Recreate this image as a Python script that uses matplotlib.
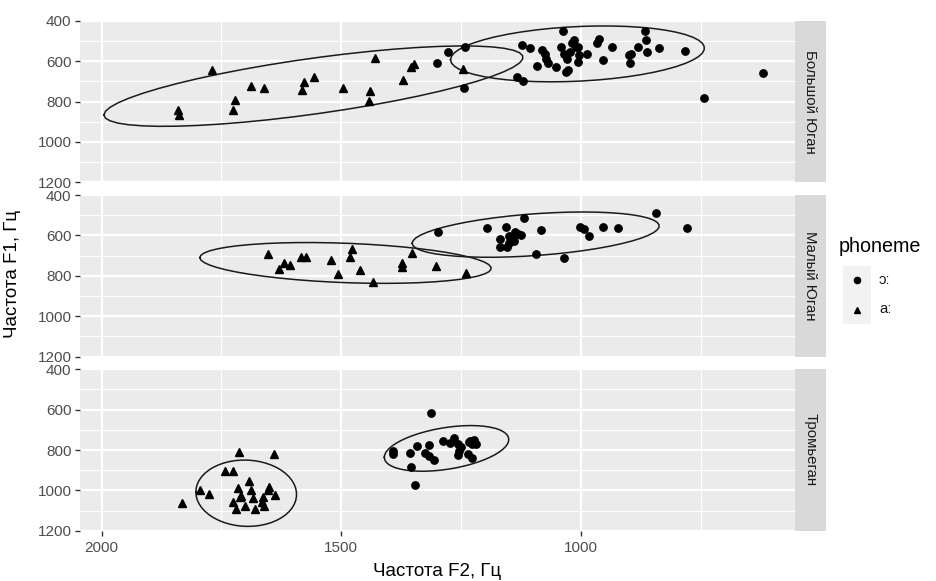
import numpy as np
import matplotlib
matplotlib.use('Agg')
import matplotlib.pyplot as plt

plt.rcParams['font.family'] = ['Liberation Sans', 'DejaVu Sans']

regions = ['Большой Юган', 'Малый Юган', 'Тромьеган']
phoneme_labels = ['ɔː', 'aː']

# Большой Юган
bu_o_f2 = [1277, 1242, 1301, 1244, 1134, 1121, 1122, 1107, 1091, 1081, 1075, 1072, 1069,
           1052, 1041, 1038, 1036, 1028, 1031, 1026, 1022, 1018, 1015, 1011, 1006, 1005,
           1004, 987, 966, 962, 954, 934, 900, 898, 896, 880, 865, 863, 861, 836, 783, 743, 619]
bu_o_f1 = [557, 529, 608, 733, 678, 700, 520, 537, 626, 545, 562, 590, 608,
           627, 529, 451, 562, 589, 656, 645, 554, 512, 496, 529, 529, 602,
           569, 562, 512, 492, 595, 529, 570, 608, 562, 529, 451, 496, 557, 535, 550, 784, 660]
bu_a_f2 = [1840, 1838, 1770, 1725, 1721, 1688, 1662, 1581, 1577, 1556, 1496, 1439, 1441,
           1429, 1372, 1354, 1349, 1246]
bu_a_f1 = [844, 865, 645, 844, 791, 724, 731, 744, 704, 678, 731, 749, 797,
           582, 695, 628, 616, 641]

# Малый Юган
mu_o_f2 = [1299, 1195, 1157, 1118, 1168, 1169, 1150, 1153, 1145, 1137, 1139, 1132, 1124,
           1149, 1094, 1083, 1034, 1001, 994, 983, 954, 923, 844, 778]
mu_o_f1 = [582, 563, 558, 513, 620, 660, 604, 657, 616, 582, 629, 591, 599,
           640, 693, 571, 712, 558, 570, 603, 558, 563, 491, 563]
mu_a_f2 = [1652, 1619, 1629, 1607, 1584, 1573, 1522, 1506, 1481, 1478, 1460, 1434, 1373,
           1373, 1352, 1302, 1239]
mu_a_f1 = [693, 736, 765, 748, 708, 708, 720, 793, 707, 668, 773, 831, 736,
           756, 685, 751, 786]

# Тромьеган
tr_o_f2 = [1313, 1392, 1391, 1356, 1341, 1325, 1316, 1317, 1307, 1354, 1345, 1288, 1272,
           1264, 1256, 1249, 1255, 1257, 1236, 1226, 1231, 1222, 1218, 1227, 1234]
tr_o_f1 = [616, 804, 821, 815, 780, 815, 773, 828, 848, 883, 972, 753, 765,
           742, 770, 787, 803, 825, 820, 840, 753, 750, 770, 770, 761]
tr_a_f2 = [1832, 1795, 1775, 1742, 1725, 1714, 1640, 1693, 1716, 1688, 1650, 1652, 1638,
           1712, 1709, 1725, 1685, 1664, 1666, 1662, 1701, 1720, 1679]
tr_a_f1 = [1061, 998, 1018, 902, 902, 808, 820, 952, 988, 998, 982, 998, 1023,
           1035, 1030, 1055, 1038, 1032, 1057, 1077, 1077, 1094, 1094]

panels = [
    ((bu_o_f2, bu_o_f1), (bu_a_f2, bu_a_f1)),
    ((mu_o_f2, mu_o_f1), (mu_a_f2, mu_a_f1)),
    ((tr_o_f2, tr_o_f1), (tr_a_f2, tr_a_f1)),
]
markers = ['o', '^']
msizes = [5.3, 5.8]


def cov_trob(xy, nu=5, maxit=25, tol=0.01):
    # same iteration as MASS::cov.trob, used by stat_ellipse(type = "t")
    n, p = xy.shape
    wt = np.ones(n)
    loc = xy.mean(axis=0)
    w = np.sqrt(wt)
    for _ in range(maxit):
        w0 = w
        X = xy - loc
        _, d, vt = np.linalg.svd(np.sqrt(w / w.sum())[:, None] * X, full_matrices=False)
        wX = X @ vt.T @ np.diag(1 / d)
        Q = (wX ** 2).sum(axis=1)
        w = wt * (nu + p) / (nu + Q)
        loc = (w[:, None] * xy).sum(axis=0) / w.sum()
        if np.all(np.abs(w - w0) < tol):
            break
    sX = np.sqrt(w)[:, None] * X
    return loc, sX.T @ sX / wt.sum()


def ellipse(x, y, level=0.95, segments=51):
    xy = np.column_stack([x, y]).astype(float)
    center, shape = cov_trob(xy)
    dfd = len(xy) - 1
    qf = dfd / 2 * ((1 - level) ** (-2 / dfd) - 1)
    radius = np.sqrt(2 * qf)
    ang = np.arange(segments + 1) * 2 * np.pi / segments
    circle = np.column_stack([np.cos(ang), np.sin(ang)])
    chol = np.linalg.cholesky(shape).T
    pts = center + radius * circle @ chol
    return pts[:, 0], pts[:, 1]


W, H = 936, 581
fig = plt.figure(figsize=(W / 100, H / 100), dpi=100)

left, right = 80, 795
strip_w = 31
tops = [20.8, 195.0, 369.3]
ph = 161.5

tick_col = '#4D4D4D'
for i, (region, groups) in enumerate(zip(regions, panels)):
    top = tops[i]
    ax = fig.add_axes([left / W, 1 - (top + ph) / H, (right - left) / W, ph / H])
    ax.set_facecolor('#EBEBEB')
    for s in ax.spines.values():
        s.set_visible(False)
    for (x, y), m, ms in zip(groups, markers, msizes):
        ax.plot(x, y, linestyle='none', marker=m, ms=ms, color='black', mec='black', zorder=3)
        ex, ey = ellipse(x, y)
        ax.plot(ex, ey, color='#1a1a1a', lw=1.1, zorder=2)
    ax.set_xlim(2045, 553)
    ax.set_ylim(1200, 400)
    ax.set_xticks([2000, 1500, 1000])
    ax.set_xticks([1750, 1250, 750], minor=True)
    ax.set_yticks([400, 600, 800, 1000, 1200])
    ax.set_yticks([500, 700, 900, 1100], minor=True)
    ax.grid(which='major', color='white', lw=1.6)
    ax.grid(which='minor', color='white', lw=0.8)
    ax.set_axisbelow(True)
    ax.tick_params(which='minor', length=0)
    ax.tick_params(axis='y', which='major', length=3.4, width=1.0, color='#333333',
                   labelsize=11, labelcolor=tick_col, pad=2.7)
    if i < 2:
        ax.tick_params(axis='x', which='major', length=0, labelbottom=False)
    else:
        ax.tick_params(axis='x', which='major', length=3.4, width=1.0, color='#333333',
                       labelsize=11, labelcolor=tick_col, pad=4)

    sax = fig.add_axes([right / W, 1 - (top + ph) / H, strip_w / W, ph / H])
    sax.set_facecolor('#D9D9D9')
    sax.set_xticks([])
    sax.set_yticks([])
    for s in sax.spines.values():
        s.set_visible(False)
    sax.text(0.5, 0.5, region, rotation=270, ha='center', va='center',
             fontsize=10.8, color='#1A1A1A', transform=sax.transAxes)

fig.text(437 / W, 1 - 571 / H, 'Частота F2, Гц', ha='center', va='center', fontsize=13.5)
fig.text(13 / W, 1 - 274 / H, 'Частота F1, Гц', ha='center', va='center',
         rotation=90, fontsize=13.5)

# legend
key_left, key_w = 843, 28
key_tops = [266, 295]
fig.text(839 / W, 1 - 246 / H, 'phoneme', ha='left', va='center', fontsize=14.2)
lax = fig.add_axes([key_left / W, 1 - (key_tops[1] + 29) / H, key_w / W, 58 / H])
lax.set_facecolor('#F2F2F2')
lax.set_xlim(0, 1)
lax.set_ylim(0, 2)
lax.set_xticks([])
lax.set_yticks([])
for s in lax.spines.values():
    s.set_visible(False)
for k, (m, ms, lab) in enumerate(zip(markers, msizes, phoneme_labels)):
    yk = 1.5 - k
    lax.plot([0.5], [yk], linestyle='none', marker=m, ms=ms - 0.8, color='black')
    fig.text((key_left + key_w + 8) / W, 1 - (key_tops[k] + 14.5) / H, lab,
             ha='left', va='center', fontsize=10.8, color='#1A1A1A')

fig.savefig('out.png', dpi=100)
